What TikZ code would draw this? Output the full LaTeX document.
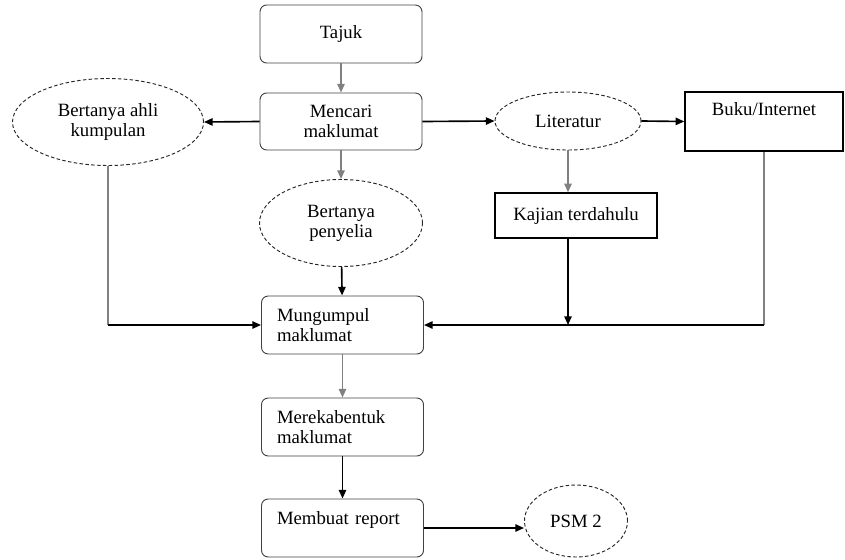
\documentclass[tikz,border=0pt]{standalone}
\usepackage{fontspec}
\setmainfont{Liberation Serif}
\usetikzlibrary{shapes,arrows.meta,positioning}

\begin{document}
\begin{tikzpicture}[x=0.03cm, y=-0.03cm,
    font=\fontsize{16}{17}\selectfont,
    rbox/.style={rectangle, rounded corners=2mm, draw=black!75, thick, minimum width=4.86cm, minimum height=1.74cm, align=center},
    lbox/.style={rbox, align=left, text width=3.93cm, inner xsep=0.45cm},
    sbox/.style={rectangle, draw=black, very thick, minimum width=4.86cm, minimum height=1.35cm},
    oval/.style={ellipse, draw=black!85, densely dashed, thick, inner sep=0pt, align=center},
    arr/.style={-{Triangle[length=2.6mm, width=2.2mm]}, line width=1.4pt},
    garr/.style={arr, black!50},
    gline/.style={line width=1.4pt, black!50}
]
    \useasboundingbox (0,0) rectangle (845,559);

    \node[rbox] (tajuk) at (341,34) {Tajuk};
    \node[rbox, minimum height=1.71cm] (mencari) at (341,121.5) {Mencari\\maklumat};
    \node[oval, minimum width=5.73cm, minimum height=2.61cm] (ahli) at (108,122) {Bertanya ahli\\kumpulan};
    \node[oval, minimum width=4.38cm, minimum height=1.74cm] (literatur) at (568,121) {Literatur};
    \node[sbox, minimum width=4.74cm, minimum height=1.77cm, text depth=0.75cm] (buku) at (764,121.5) {Buku/Internet};
    \node[oval, minimum width=4.89cm, minimum height=2.61cm] (penyelia) at (341,223) {Bertanya\\penyelia};
    \node[sbox] (kajian) at (576,215.5) {Kajian terdahulu};
    \node[lbox] (kumpul) at (342.5,325) {Mungumpul\\maklumat};
    \node[lbox] (reka) at (342.5,427) {Merekabentuk\\maklumat};
    \node[lbox, text depth=0.58cm] (report) at (342.5,528) {Membuat report};
    \node[oval, minimum width=3.09cm, minimum height=2.16cm] (psm) at (576,521) {PSM 2};

    \draw[garr] (tajuk) -- (mencari);
    \draw[arr] (mencari.west) -- (ahli.east);
    \draw[arr] (mencari.east) -- (literatur.west);
    \draw[arr] (literatur.east) -- (buku.west);
    \draw[garr] (mencari) -- (penyelia);
    \draw[garr] (literatur.south) -- (literatur.south |- kajian.north);

    \draw[gline] (ahli.south) -- (ahli.south |- kumpul.west);
    \draw[arr] (ahli.south |- kumpul.west) -- (kumpul.west);
    \draw[arr] (penyelia) -- (kumpul);
    \draw[gline] (buku.south) -- (buku.south |- kumpul.east);
    \draw[arr] (buku.south |- kumpul.east) -- (kumpul.east);
    \draw[arr] (kajian.south -| literatur.south) -- (literatur.south |- kumpul.east);

    \draw[garr] (kumpul) -- (reka);
    \draw[arr] (reka) -- (report);
    \draw[arr] (report.east) -- (report.east -| psm.west);
\end{tikzpicture}
\end{document}
